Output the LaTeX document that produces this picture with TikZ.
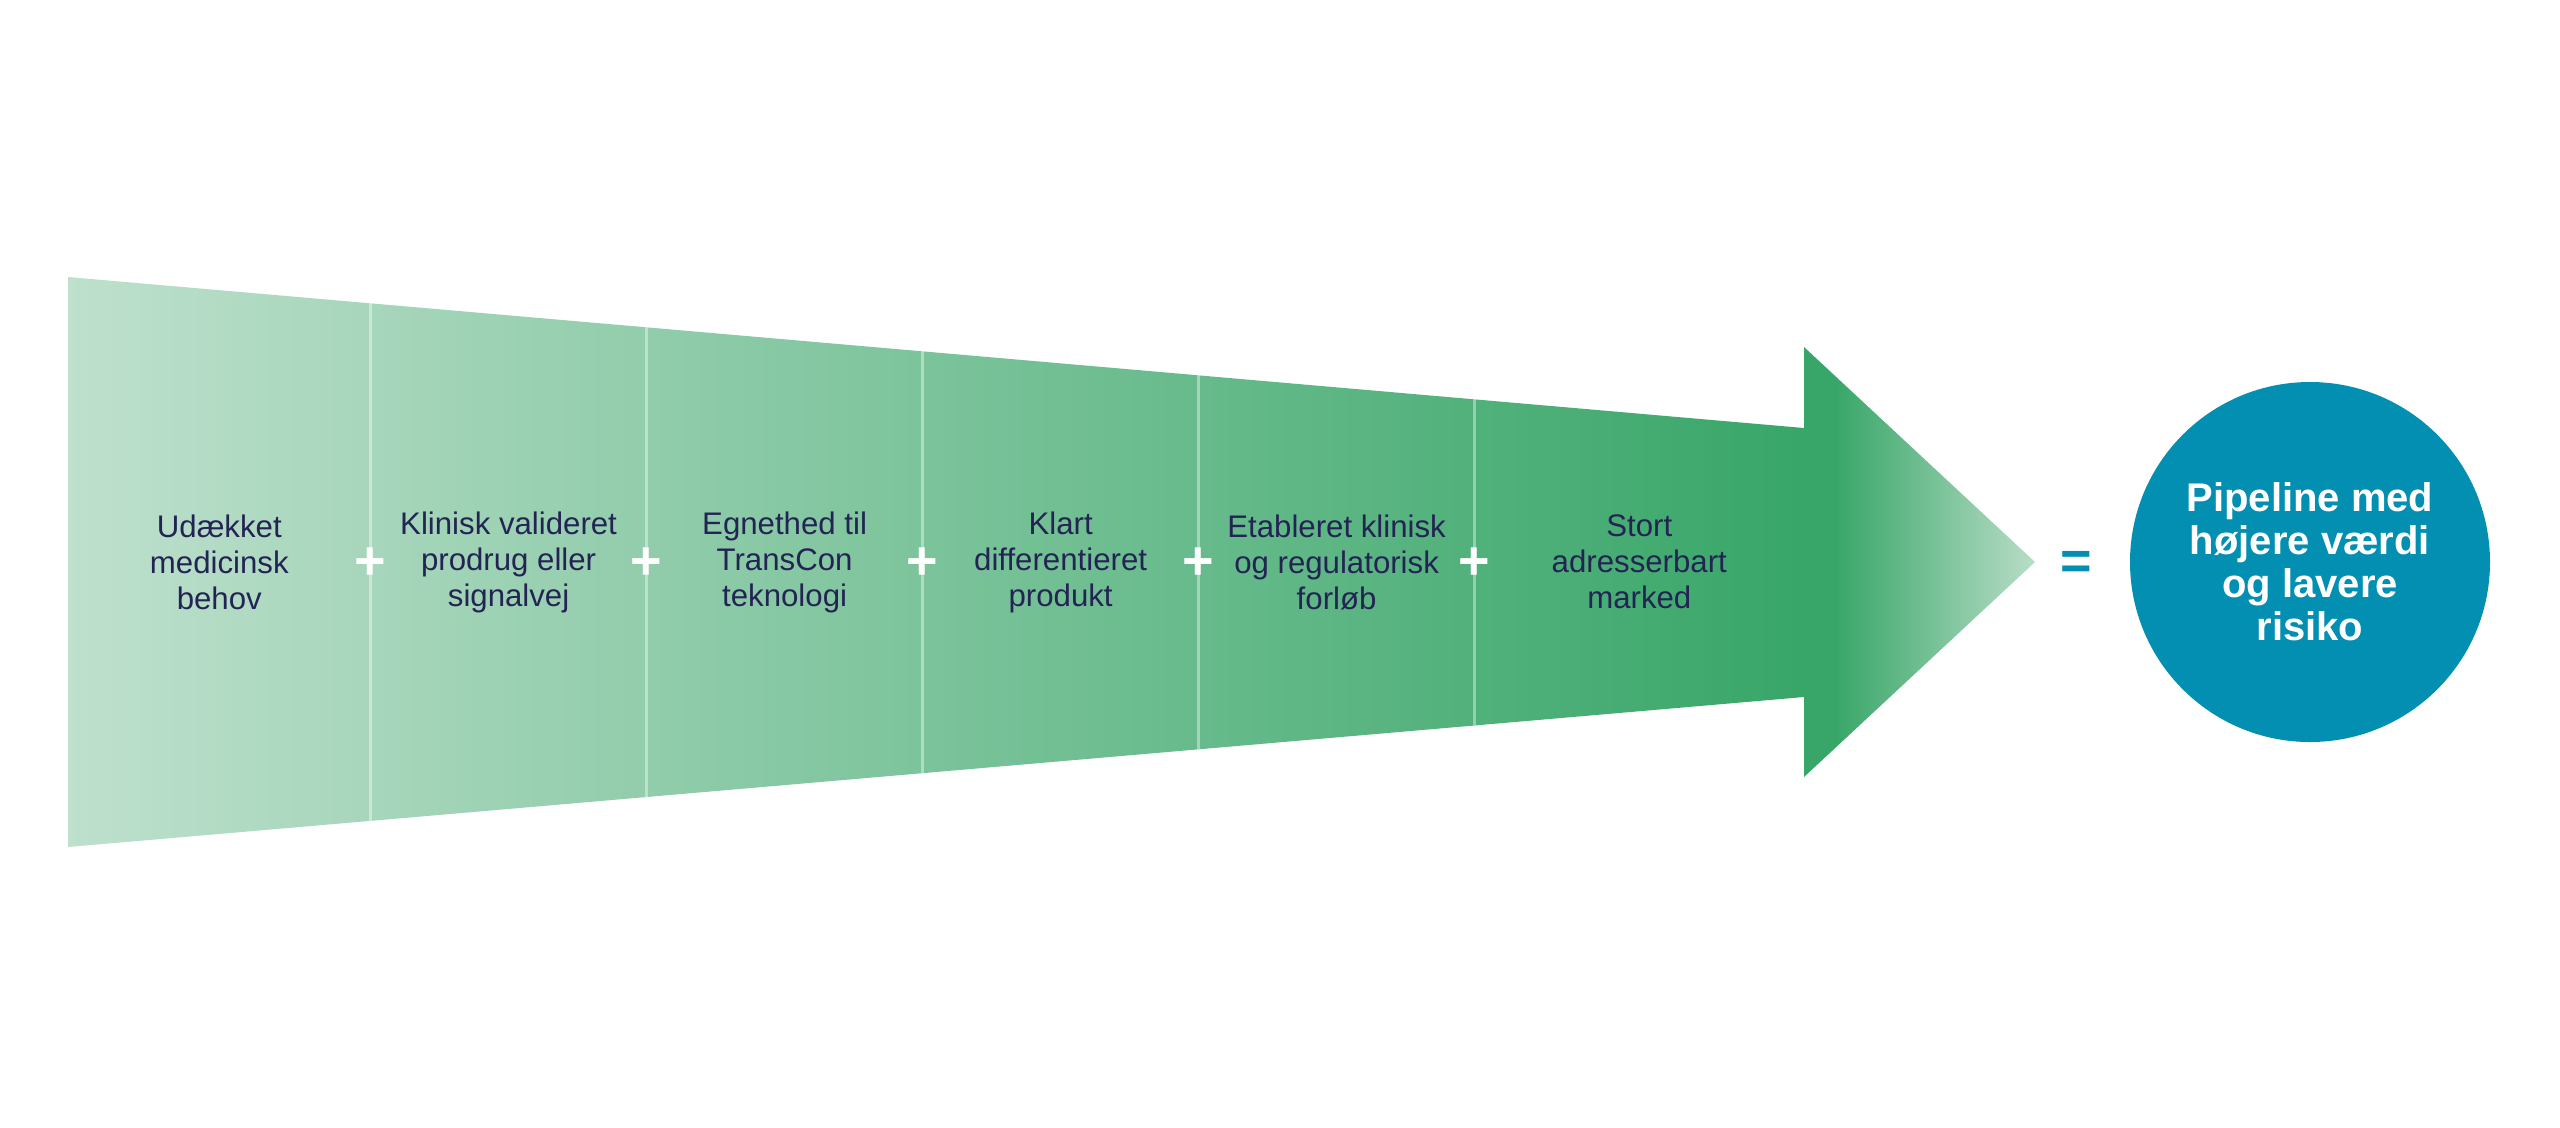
\documentclass[tikz,border=0pt]{standalone}
\usepackage{fontspec}
\setmainfont{Liberation Sans}
\usepackage{xcolor}
\usepackage{tikz}
\usetikzlibrary{calc}
\definecolor{PipeMint}{RGB}{190,224,205}
\definecolor{PipeGreen}{RGB}{56,166,104}
\definecolor{PipeTip}{RGB}{184,221,199}
\definecolor{PipeTeal}{RGB}{2,143,178}
\definecolor{PipeNavy}{RGB}{36,36,84}
\pgfdeclarehorizontalshading{pipefade}{100bp}{color(0bp)=(PipeMint); color(25bp)=(PipeMint); color(69.2bp)=(PipeGreen); color(69.9bp)=(PipeGreen); color(75bp)=(PipeTip); color(100bp)=(PipeTip)}

\begin{document}
\begin{tikzpicture}[x=0.25pt,y=-0.25pt,
  steptext/.style={align=center, text=PipeNavy, inner sep=0pt, font=\fontsize{7.8}{9}\selectfont},
  signtext/.style={inner sep=0pt, font=\fontsize{13.5}{14}\selectfont\bfseries}]
  \path[use as bounding box] (0,0) rectangle (2560,1127);
  \fill[white] (0,0) rectangle (2560,1127);
  % funnel and arrow head
  \coordinate (tl) at (68,277);
  \coordinate (tr) at (1804,428);
  \coordinate (bl) at (68,847);
  \coordinate (br) at (1804,697);
  \shade[shading=pipefade] (tl) -- (tr) -- (1804,347) -- (2035,562) -- (1804,777) -- (br) -- (bl) -- cycle;
  \foreach \x [count=\i, evaluate=\x as \f using (\x-68)/1736] in {370.6,646.6,922.6,1198.6,1474.6}{
    \draw[white, opacity=0.4, line width=0.75pt] ($(tl)!\f!(tr)$) -- ($(bl)!\f!(br)$);
    \node[signtext, text=white] (plus\i) at (\x,564) {+};
  }
  \node[steptext] (need) at (219.3,562) {Udækket\\medicinsk\\behov};
  \node[steptext] (prodrug) at (508.6,562) {Klinisk valideret\\prodrug eller\\signalvej};
  \node[steptext] (transcon) at (784.6,562) {Egnethed til\\TransCon\\teknologi};
  \node[steptext] (product) at (1060.6,562) {Klart\\differentieret\\produkt};
  \node[steptext] (regulatory) at (1336.6,562) {Etableret klinisk\\og regulatorisk\\forløb};
  \node[steptext] (market) at (1639.3,562) {Stort\\adresserbart\\marked};
  % result
  \node[signtext, text=PipeTeal] (equals) at (2076,565) {=};
  \node[circle, fill=PipeTeal, minimum size=90pt, inner sep=0pt, align=center, text=white,
    font=\fontsize{10}{10.75}\selectfont\bfseries] (result) at (2310,562)
    {Pipeline med\\højere værdi\\og lavere\\risiko};
\end{tikzpicture}
\end{document}
